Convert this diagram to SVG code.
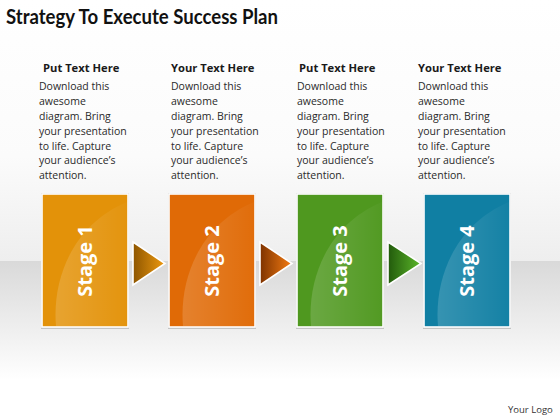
<svg xmlns="http://www.w3.org/2000/svg" width="560" height="420" viewBox="0 0 560 420">
<defs>
<linearGradient id="bgTop" x1="0" y1="0" x2="0" y2="1">
<stop offset="0" stop-color="#ffffff"/><stop offset="0.6" stop-color="#fbfbfb"/><stop offset="1" stop-color="#eeeeee"/>
</linearGradient>
<linearGradient id="bgBot" x1="0" y1="0" x2="0" y2="1">
<stop offset="0" stop-color="#d9d9d9"/><stop offset="0.75" stop-color="#ffffff"/><stop offset="1" stop-color="#ffffff"/>
</linearGradient>
<linearGradient id="a1" x1="0" y1="0" x2="1" y2="0"><stop offset="0" stop-color="#8e5600"/><stop offset="1" stop-color="#ee9a10"/></linearGradient>
<linearGradient id="a2" x1="0" y1="0" x2="1" y2="0"><stop offset="0" stop-color="#7e3300"/><stop offset="1" stop-color="#f57c12"/></linearGradient>
<linearGradient id="a3" x1="0" y1="0" x2="1" y2="0"><stop offset="0" stop-color="#225a0c"/><stop offset="1" stop-color="#5cb82a"/></linearGradient>
<linearGradient id="shine" x1="0" y1="0" x2="1" y2="0"><stop offset="0" stop-color="#ffffff" stop-opacity="0.16"/><stop offset="1" stop-color="#ffffff" stop-opacity="0.02"/></linearGradient>
</defs>
<style>
.title{font-family:Lato,"Open Sans",sans-serif;font-weight:bold;font-size:20px;fill:#111}
.hd{font-family:"Open Sans",Lato,sans-serif;font-weight:bold;font-size:11.2px;fill:#1a1a1a}
.bd{font-family:"Open Sans",Lato,sans-serif;font-size:10.5px;fill:#2a2a2a}
.stage{font-family:"Open Sans",Lato,sans-serif;font-weight:bold;font-size:20px;fill:#ffffff;text-anchor:middle}
.frame{stroke:#ffffff;stroke-width:1.6}
.shadow{fill:#c4c4c4}
.arrow{stroke:#ffffff;stroke-width:1.6;stroke-linejoin:miter}
.logo{font-family:"Open Sans",Lato,sans-serif;font-size:9.5px;fill:#333}
</style>
<rect x="0" y="0" width="560" height="261" fill="url(#bgTop)"/>
<rect x="0" y="261" width="560" height="159" fill="url(#bgBot)"/>
<text class="title" x="6" y="24" textLength="272" lengthAdjust="spacingAndGlyphs">Strategy To Execute Success Plan</text>

<g id="col1">
<text class="hd" x="43" y="72">Put Text Here</text>
<text class="bd" x="39" y="90">Download this</text>
<text class="bd" x="39" y="105">awesome</text>
<text class="bd" x="39" y="120">diagram. Bring</text>
<text class="bd" x="39" y="135">your presentation</text>
<text class="bd" x="39" y="149.5">to life. Capture</text>
<text class="bd" x="39" y="164">your audience’s</text>
<text class="bd" x="39" y="178.5">attention.</text>
</g>
<g id="col2">
<text class="hd" x="171" y="72">Your Text Here</text>
<text class="bd" x="171" y="90">Download this</text>
<text class="bd" x="171" y="105">awesome</text>
<text class="bd" x="171" y="120">diagram. Bring</text>
<text class="bd" x="171" y="135">your presentation</text>
<text class="bd" x="171" y="149.5">to life. Capture</text>
<text class="bd" x="171" y="164">your audience’s</text>
<text class="bd" x="171" y="178.5">attention.</text>
</g>
<g id="col3">
<text class="hd" x="299" y="72">Put Text Here</text>
<text class="bd" x="297" y="90">Download this</text>
<text class="bd" x="297" y="105">awesome</text>
<text class="bd" x="297" y="120">diagram. Bring</text>
<text class="bd" x="297" y="135">your presentation</text>
<text class="bd" x="297" y="149.5">to life. Capture</text>
<text class="bd" x="297" y="164">your audience’s</text>
<text class="bd" x="297" y="178.5">attention.</text>
</g>
<g id="col4">
<text class="hd" x="418" y="72">Your Text Here</text>
<text class="bd" x="418" y="90">Download this</text>
<text class="bd" x="418" y="105">awesome</text>
<text class="bd" x="418" y="120">diagram. Bring</text>
<text class="bd" x="418" y="135">your presentation</text>
<text class="bd" x="418" y="149.5">to life. Capture</text>
<text class="bd" x="418" y="164">your audience’s</text>
<text class="bd" x="418" y="178.5">attention.</text>
</g>

<g id="stage1">
<rect class="shadow" x="41" y="193" width="88" height="136"/>
<rect class="frame" x="42" y="194" width="86" height="133" fill="#e39209"/>
<path d="M56 326 C52 280 72 225 127 202 L127 326 Z" fill="url(#shine)"/>
<text class="stage" transform="translate(85,261) rotate(-90)" x="0" y="7">Stage 1</text>
</g>
<g id="stage2">
<rect class="shadow" x="168" y="193" width="88" height="136"/>
<rect class="frame" x="169" y="194" width="86" height="133" fill="#e06a06"/>
<path d="M183 326 C179 280 199 225 254 202 L254 326 Z" fill="url(#shine)"/>
<text class="stage" transform="translate(212,261) rotate(-90)" x="0" y="7">Stage 2</text>
</g>
<g id="stage3">
<rect class="shadow" x="296" y="193" width="88" height="136"/>
<rect class="frame" x="297" y="194" width="86" height="133" fill="#4f981f"/>
<path d="M311 326 C307 280 327 225 382 202 L382 326 Z" fill="url(#shine)"/>
<text class="stage" transform="translate(340,261) rotate(-90)" x="0" y="7">Stage 3</text>
</g>
<g id="stage4">
<rect class="shadow" x="423" y="193" width="88" height="136"/>
<rect class="frame" x="424" y="194" width="86" height="133" fill="#107fa3"/>
<path d="M438 326 C434 280 454 225 509 202 L509 326 Z" fill="url(#shine)"/>
<text class="stage" transform="translate(467,261) rotate(-90)" x="0" y="7">Stage 4</text>
</g>

<g id="connectors">
<polygon class="arrow" points="133,242 165,263.5 133,285" fill="url(#a1)"/>
<polygon class="arrow" points="260,242 292,263.5 260,285" fill="url(#a2)"/>
<polygon class="arrow" points="388,242 421,263.5 388,285" fill="url(#a3)"/>
</g>

<text class="logo" x="508" y="413">Your Logo</text>
</svg>
